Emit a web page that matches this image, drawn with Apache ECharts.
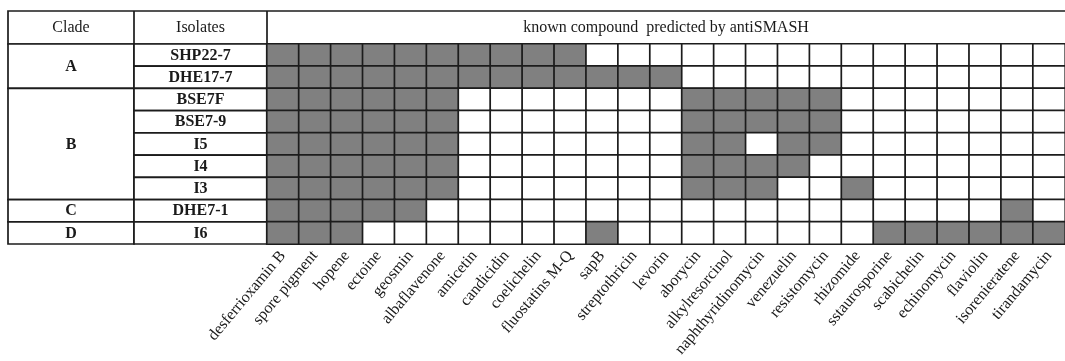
<!DOCTYPE html>
<html>
<head>
<meta charset="utf-8">
<script src="https://cdn.jsdelivr.net/npm/echarts@6/dist/echarts.min.js"></script>
<style>
  html, body { margin: 0; padding: 0; background: #fff; }
  #chart { width: 1065px; height: 361px; }
</style>
</head>
<body>
<div id="chart"></div>
<script>
// Compounds (columns) detected by antiSMASH
const compounds = [
  'desferrioxamin B', 'spore pigment', 'hopene', 'ectoine', 'geosmin',
  'albaflavenone', 'amicetin', 'candicidin', 'coelichelin', 'fluostatins M-Q',
  'sapB', 'streptothricin', 'levorin', 'aborycin', 'alkylresorcinol',
  'naphthyridinomycin', 'venezuelin', 'resistomycin', 'rhizomide', 'sstaurosporine',
  'scabichelin', 'echinomycin', 'flaviolin', 'isorenieratene', 'tirandamycin'
];

// Isolates (rows), top to bottom
const isolates = ['SHP22-7', 'DHE17-7', 'BSE7F', 'BSE7-9', 'I5', 'I4', 'I3', 'DHE7-1', 'I6'];

// Clades and how many consecutive isolates each one covers
const clades = ['A', 'B', 'C', 'D'];
const cladeSizes = [2, 5, 1, 1];

// 1 = compound predicted for the isolate, 0 = not predicted (one row per isolate)
const presence = [
  [1,1,1,1,1,1,1,1,1,1, 0,0,0,0,0,0,0,0,0,0, 0,0,0,0,0],
  [1,1,1,1,1,1,1,1,1,1, 1,1,1,0,0,0,0,0,0,0, 0,0,0,0,0],
  [1,1,1,1,1,1,0,0,0,0, 0,0,0,1,1,1,1,1,0,0, 0,0,0,0,0],
  [1,1,1,1,1,1,0,0,0,0, 0,0,0,1,1,1,1,1,0,0, 0,0,0,0,0],
  [1,1,1,1,1,1,0,0,0,0, 0,0,0,1,1,0,1,1,0,0, 0,0,0,0,0],
  [1,1,1,1,1,1,0,0,0,0, 0,0,0,1,1,1,1,0,0,0, 0,0,0,0,0],
  [1,1,1,1,1,1,0,0,0,0, 0,0,0,1,1,1,0,0,1,0, 0,0,0,0,0],
  [1,1,1,1,1,0,0,0,0,0, 0,0,0,0,0,0,0,0,0,0, 0,0,0,1,0],
  [1,1,1,0,0,0,0,0,0,0, 1,0,0,0,0,0,0,0,0,1, 1,1,1,1,1]
];

// Header texts
const headers = ['Clade', 'Isolates', 'known compound  predicted by antiSMASH'];

// ---- layout ----
const LEFT = 8, CLADE_W = 126, ISO_W = 133, MAIN_LEFT = LEFT + CLADE_W + ISO_W;
const TOP = 11, HEAD_H = 33, BODY_TOP = TOP + HEAD_H, BODY_H = 200;
const CHART_W = 1065;
const LINE = '#1c1c1c', LINE_W = 1.7;
const FONT = '"Liberation Serif", "Times New Roman", serif';
const FS = 16;
const TEXT = '#1a1a1a';

const heatData = [];
presence.forEach((row, r) => row.forEach((v, c) => heatData.push([c, r, v])));

// first and last row index of each clade block
const cladeBlocks = [];
let start = 0;
cladeSizes.forEach((n, i) => { cladeBlocks.push([0, start, start + n - 1, i]); start += n; });

function cellStyle() {
  return { fill: '#fff', stroke: LINE, lineWidth: LINE_W };
}

const chart = echarts.init(document.getElementById('chart'), null, { renderer: 'canvas' });

const yCat = (gi) => ({
  gridIndex: gi, type: 'category', data: isolates, inverse: true, show: false
});

chart.setOption({
  animation: false,
  backgroundColor: '#fff',
  grid: [
    { left: LEFT, top: BODY_TOP, width: CLADE_W, height: BODY_H },
    { left: LEFT + CLADE_W, top: BODY_TOP, width: ISO_W, height: BODY_H },
    { left: MAIN_LEFT, top: BODY_TOP, width: CHART_W - MAIN_LEFT, height: BODY_H }
  ],
  xAxis: [
    { gridIndex: 0, type: 'category', data: [headers[0]], show: false },
    { gridIndex: 1, type: 'category', data: [headers[1]], show: false },
    {
      gridIndex: 2, type: 'category', data: compounds, position: 'bottom',
      axisLine: { show: false }, axisTick: { show: false }, splitLine: { show: false },
      axisLabel: {
        interval: 0, rotate: 50, margin: 9,
        fontFamily: FONT, fontSize: FS, color: TEXT
      }
    }
  ],
  yAxis: [yCat(0), yCat(1), yCat(2)],
  visualMap: {
    show: false, type: 'piecewise', seriesIndex: 2, dimension: 2,
    pieces: [{ value: 0, color: '#ffffff' }, { value: 1, color: '#808080' }]
  },
  series: [
    {
      type: 'custom', xAxisIndex: 0, yAxisIndex: 0,
      data: cladeBlocks,
      encode: { x: 0, y: [1, 2] },
      renderItem: (params, api) => {
        const p0 = api.coord([0, api.value(1)]);
        const p1 = api.coord([0, api.value(2)]);
        const s = api.size([1, 1]);
        const x = p0[0] - s[0] / 2, y = p0[1] - s[1] / 2;
        const h = p1[1] - p0[1] + s[1];
        return {
          type: 'group',
          children: [
            { type: 'rect', shape: { x, y, width: s[0], height: h }, style: cellStyle() },
            { type: 'text', style: {
                x: x + s[0] / 2, y: y + h / 2 + 0.5, text: clades[params.dataIndex],
                align: 'center', verticalAlign: 'middle',
                font: 'bold ' + FS + 'px ' + FONT, fill: TEXT } }
          ]
        };
      }
    },
    {
      type: 'custom', xAxisIndex: 1, yAxisIndex: 1,
      data: isolates.map((n, i) => [0, i]),
      encode: { x: 0, y: 1 },
      renderItem: (params, api) => {
        const p = api.coord([0, api.value(1)]);
        const s = api.size([1, 1]);
        return {
          type: 'group',
          children: [
            { type: 'rect', shape: { x: p[0] - s[0] / 2, y: p[1] - s[1] / 2, width: s[0], height: s[1] }, style: cellStyle() },
            { type: 'text', style: {
                x: p[0], y: p[1] + 0.5, text: isolates[params.dataIndex],
                align: 'center', verticalAlign: 'middle',
                font: 'bold ' + FS + 'px ' + FONT, fill: TEXT } }
          ]
        };
      }
    },
    {
      type: 'heatmap', xAxisIndex: 2, yAxisIndex: 2,
      data: heatData,
      itemStyle: { borderColor: LINE, borderWidth: LINE_W },
      emphasis: { disabled: true }
    }
  ],
  graphic: [
    {
      type: 'group', silent: true, z: 100,
      children: [
        { type: 'rect', shape: { x: LEFT, y: TOP, width: CHART_W - LEFT + 2, height: HEAD_H },
          style: { fill: 'none', stroke: LINE, lineWidth: LINE_W } },
        { type: 'line', shape: { x1: LEFT + CLADE_W, y1: TOP, x2: LEFT + CLADE_W, y2: BODY_TOP },
          style: { stroke: LINE, lineWidth: LINE_W } },
        { type: 'line', shape: { x1: MAIN_LEFT, y1: TOP, x2: MAIN_LEFT, y2: BODY_TOP },
          style: { stroke: LINE, lineWidth: LINE_W } },
        { type: 'text', style: { x: LEFT + CLADE_W / 2, y: TOP + HEAD_H / 2, text: headers[0],
            align: 'center', verticalAlign: 'middle', font: FS + 'px ' + FONT, fill: TEXT } },
        { type: 'text', style: { x: LEFT + CLADE_W + ISO_W / 2, y: TOP + HEAD_H / 2, text: headers[1],
            align: 'center', verticalAlign: 'middle', font: FS + 'px ' + FONT, fill: TEXT } },
        { type: 'text', style: { x: (MAIN_LEFT + CHART_W) / 2, y: TOP + HEAD_H / 2, text: headers[2],
            align: 'center', verticalAlign: 'middle', font: FS + 'px ' + FONT, fill: TEXT } }
      ]
    }
  ]
});
</script>
</body>
</html>
